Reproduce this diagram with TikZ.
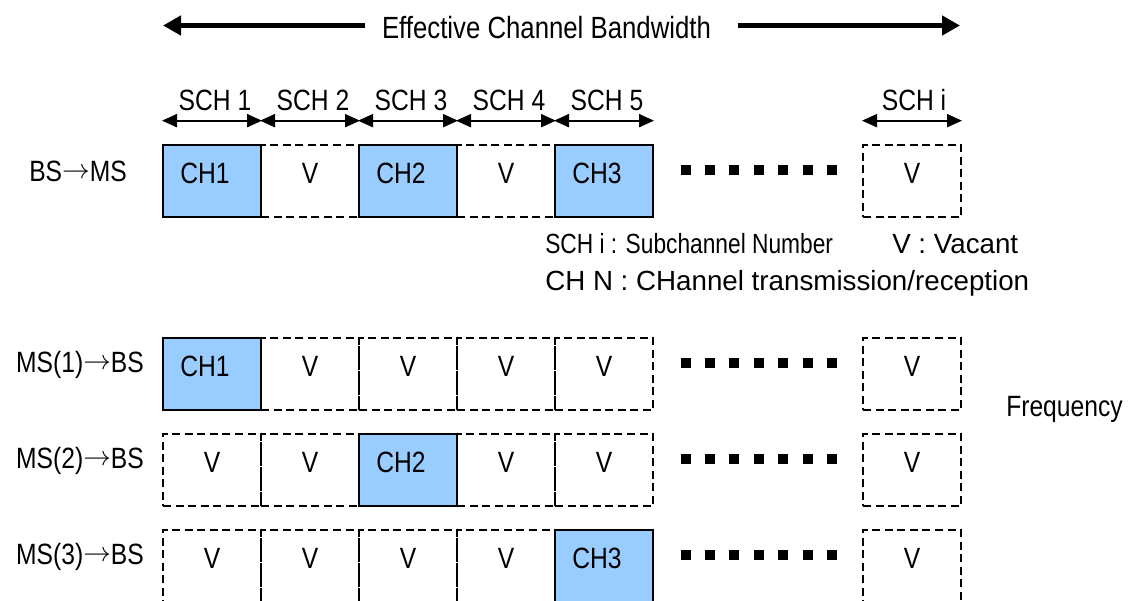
\documentclass[tikz,border=0pt]{standalone}
\usepackage{fontspec}
\setmainfont{Liberation Sans}[FakeStretch=0.84]
\newfontfamily\widefont{Liberation Sans}
\newfontfamily\keynarrow{Liberation Sans}[FakeStretch=0.82]
\usetikzlibrary{arrows.meta}
\definecolor{chblue}{HTML}{99CCFF}
\newcommand{\dirarrow}{\raisebox{2.2pt}{$\rightarrow$}}

\begin{document}
\begin{tikzpicture}[x=0.75pt, y=-0.75pt,
  font=\fontsize{22}{26}\selectfont,
  slot/.style={minimum width=73.5pt, minimum height=54pt, inner sep=0pt,
    text height=20pt, text depth=17pt, line width=1.5pt},
  vbox/.style={slot, draw=black, dash pattern=on 6pt off 3.4pt},
  chbox/.style={slot, draw=black, fill=chblue},
  rowlabel/.style={anchor=base, inner sep=0pt},
  schlabel/.style={anchor=base, inner sep=0pt},
  dimarrow/.style={line width=1.5pt, {Triangle[length=11.25pt, width=9.75pt]}-{Triangle[length=11.25pt, width=9.75pt]}},
  bwarrow/.style={line width=4.2pt, -{Triangle[length=13.5pt, width=14.25pt]}},
  keytext/.style={anchor=base west, inner sep=0pt, font=\keynarrow\fontsize{20.8}{25}\selectfont},
  keywide/.style={anchor=base west, inner sep=0pt, font=\widefont\fontsize{20.8}{25}\selectfont}
]
\useasboundingbox (0,0) rectangle (1131,600);
\clip (0,0) rectangle (1131,600);

% bandwidth arrow with its title
\node[anchor=base, inner sep=0pt, font=\fontsize{23}{27}\selectfont] (title) at (546.5,38.3) {Effective Channel Bandwidth};
\coordinate (bwL) at (163,25.5);
\coordinate (bwR) at (960,25.5);
\coordinate (bwLs) at (365,25.5);
\coordinate (bwRs) at (738,25.5);
\draw[bwarrow] (bwLs) -- (bwL);
\draw[bwarrow] (bwRs) -- (bwR);

% subchannel slots: 0 = vacant, n = CH n
\foreach \r/\top/\kinds in {a/145/{1,0,2,0,3}, b/338/{1,0,0,0,0}, c/434/{0,0,2,0,0}, d/530/{0,0,0,0,3}}{
  \foreach \c [count=\k] in \kinds {
    \ifnum\c=0
      \node[vbox] (\r\k) at ({163+98*(\k-0.5)},{\top+36}) {V};
    \else
      \node[chbox] (\r\k) at ({163+98*(\k-0.5)},{\top+36}) {\hspace*{-10.5pt}CH\c};
    \fi
  }
  \node[vbox] (\r i) at (912,{\top+36}) {V};
  \foreach \m in {0,...,6}
    \fill ({680.5+24.4*\m},{\top+19.5}) rectangle ++(10,10);
}

% row labels
\node[rowlabel] (la) at (78,181) {BS\dirarrow MS};
\node[rowlabel] (lb) at (80,372) {MS(1)\dirarrow BS};
\node[rowlabel] (lc) at (80,468) {MS(2)\dirarrow BS};
\node[rowlabel] (ld) at (80,564) {MS(3)\dirarrow BS};

% subchannel widths
\foreach \k in {1,...,5}{
  \draw[dimarrow] ([yshift=17.5pt]a\k.north west) -- ([yshift=17.5pt]a\k.north east);
  \node[schlabel] (sch\k) at ({163+98*(\k-0.5)+3},110.7) {SCH \k};
}
\draw[dimarrow] ([yshift=17.5pt]ai.north west) -- ([yshift=17.5pt]ai.north east);
\node[schlabel] (schi) at (914,110.7) {SCH i};

% key
\node[keytext] (key1) at (545,253) {SCH i : Subchannel Number};
\node[keywide] (key1v) at (892,253) {V : Vacant};
\node[keywide] (key2) at (545,290) {CH N : CHannel transmission/reception};

\node[anchor=base west, inner sep=0pt] (freq) at (1006,416.7) {Frequency};
\end{tikzpicture}
\end{document}
